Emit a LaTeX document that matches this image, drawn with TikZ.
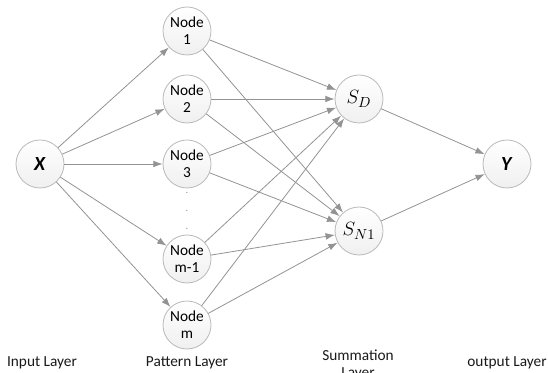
\documentclass[tikz,border=0pt]{standalone}
\usepackage{fontspec}
\setsansfont{Carlito}
\usepackage{tikz}
\usetikzlibrary{arrows.meta}

\tikzset{
  neuron/.style={circle, draw=gray!55, line width=0.6pt, minimum size=48*0.75pt, inner sep=0pt,
    top color=white, bottom color=gray!12, font=\sffamily\fontsize{11.5}{12.5}\selectfont, align=center},
  link/.style={draw=gray!85, line width=0.6pt, -{Latex[length=7pt, width=5pt]}},
  layer/.style={font=\sffamily\fontsize{11.5}{13}\selectfont, align=center, text=black!90}
}

\begin{document}
\begin{tikzpicture}[line cap=round, line join=round, x=0.75pt, y=-0.75pt]
                \useasboundingbox (0, 0) rectangle (548, 373);
                \clip (0, 0) rectangle (548, 373);

                % input layer
                \node[neuron, font=\sffamily\fontsize{15}{15}\selectfont] (X) at (40, 164) {\textbf{\textit{X}}};

                % pattern layer
                \node[neuron] (P1) at (187, 31) {Node\\1};
                \node[neuron] (P2) at (187, 99) {Node\\2};
                \node[neuron] (P3) at (187, 164) {Node\\3};
                \node[font=\fontsize{8}{13.5}\selectfont, align=center, text=gray] (dots) at (187, 211) {.\\.\\.};
                \node[neuron] (Pm1) at (187, 259) {Node\\m-1};
                \node[neuron] (Pm) at (187, 325) {Node\\m};

                % summation layer
                \node[neuron, font=\fontsize{15}{15}\selectfont] (SD) at (359, 99) {$S_{D}$};
                \node[neuron, font=\fontsize{15}{15}\selectfont] (SN) at (359, 231) {$S_{N1}$};

                % output layer
                \node[neuron, font=\sffamily\fontsize{15}{15}\selectfont] (Y) at (507, 164) {\textbf{\textit{Y}}};

                \foreach \p in {P1, P2, P3, Pm1, Pm} {
                    \draw[link] (X) -- (\p);
                    \draw[link] (\p) -- (SD);
                    \draw[link] (\p) -- (SN);
                }
                \draw[link] (SD) -- (Y);
                \draw[link] (SN) -- (Y);

                % layer names
                \node[layer] (inlbl) at (42, 363) {Input Layer};
                \node[layer] (patlbl) at (187, 363) {Pattern Layer};
                \node[layer, anchor=north] (sumlbl) at (358, 345) {Summation\\Layer};
                \node[layer] (outlbl) at (507, 363) {output Layer};
            \end{tikzpicture}
\end{document}
